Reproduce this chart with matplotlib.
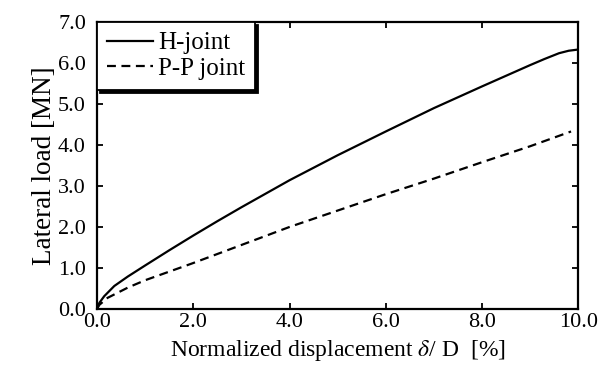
import matplotlib
matplotlib.use("Agg")
import matplotlib.pyplot as plt

h_x = [0, 0.05, 0.15, 0.36, 0.64, 1.0, 1.5, 2.0, 2.5, 3.0, 3.5, 4.0, 5.0, 6.0, 7.0, 8.0, 9.0, 9.3, 9.6, 9.8, 10.0]
h_y = [0, 0.15, 0.31, 0.56, 0.79, 1.06, 1.43, 1.79, 2.14, 2.48, 2.81, 3.14, 3.75, 4.33, 4.9, 5.43, 5.95, 6.1, 6.24, 6.3, 6.33]
pp_x = [0, 0.05, 0.22, 0.64, 1.0, 2.0, 3.0, 4.0, 5.0, 6.0, 7.0, 8.0, 9.0, 9.85]
pp_y = [0, 0.1, 0.27, 0.52, 0.7, 1.12, 1.56, 2.0, 2.4, 2.8, 3.18, 3.58, 3.97, 4.33]
x_ticks = [0, 2, 4, 6, 8, 10]
y_ticks = [0, 1, 2, 3, 4, 5, 6, 7]

plt.rcParams['font.family'] = ['Liberation Serif', 'DejaVu Serif']
plt.rcParams['mathtext.fontset'] = 'stix'

fig = plt.figure(figsize=(6.1, 3.74), dpi=100)
ax = fig.add_axes([0.159, 0.174, 0.789, 0.767])

ax.plot(h_x, h_y, color='black', lw=1.6, label='H-joint')
ax.plot(pp_x, pp_y, color='black', lw=1.6, linestyle=(0, (4, 2.5)), label='P-P joint')

ax.set_xlim(0, 10)
ax.set_ylim(0, 7)
ax.set_xticks(x_ticks)
ax.set_yticks(y_ticks)
ax.set_xticklabels([f"{v:.1f}" for v in x_ticks])
ax.set_yticklabels([f"{v:.1f}" for v in y_ticks])
ax.tick_params(direction='in', top=True, right=True, labelsize=16, width=1.3, length=4)
ax.tick_params(axis='x', pad=3)
ax.tick_params(axis='y', pad=8)
for s in ax.spines.values():
    s.set_linewidth(1.6)

ax.set_xlabel(r"Normalized displacement $\delta$/ D  [%]", fontsize=17, labelpad=4)
ax.set_ylabel("Lateral load [MN]", fontsize=19.5, labelpad=1)

leg = ax.legend(loc='upper left', fontsize=18, frameon=True, fancybox=False,
                shadow={'color': 'black', 'alpha': 1}, borderaxespad=0,
                handlelength=1.85, handletextpad=0.18, borderpad=0.4, labelspacing=0.15,
                handleheight=0.6)
leg.get_frame().set_edgecolor('black')
leg.get_frame().set_linewidth(1.3)

fig.savefig("out.png", dpi=100)
